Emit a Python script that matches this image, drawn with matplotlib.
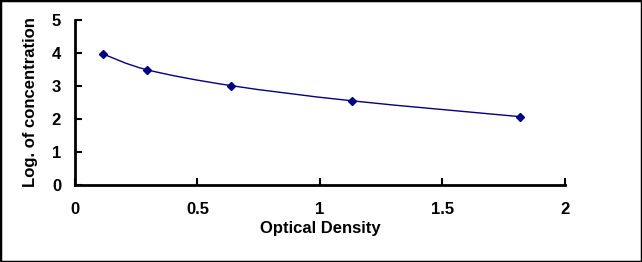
import matplotlib
matplotlib.use("Agg")
import matplotlib.pyplot as plt
import numpy as np
from matplotlib.path import Path
from matplotlib.patches import PathPatch, Rectangle

# standard curve points
od = [0.114, 0.294, 0.637, 1.13, 1.816]
log_conc = [3.97, 3.49, 3.01, 2.55, 2.07]

x_ticks = [0, 0.5, 1, 1.5, 2]
x_tick_labels = ["0", "0.5", "1", "1.5", "2"]
y_ticks = [0, 1, 2, 3, 4, 5]

plt.rcParams["font.family"] = ["Liberation Sans", "DejaVu Sans"]
plt.rcParams["font.weight"] = "bold"
plt.rcParams["font.size"] = 12

fig = plt.figure(figsize=(6.42, 2.62), dpi=100)
fig.patches.append(Rectangle((0, 0), 1, 1, transform=fig.transFigure,
                             fill=False, edgecolor="black", linewidth=2.5))
ax = fig.add_axes([0.1168, 0.294, 0.763, 0.63])

# smoothed line (Excel-style bezier through the points)
x = np.array(od); y = np.array(log_conc)
verts = [(x[0], y[0])]
codes = [Path.MOVETO]
n = len(x)
for i in range(n - 1):
    p0 = np.array([x[max(i - 1, 0)], y[max(i - 1, 0)]])
    p1 = np.array([x[i], y[i]])
    p2 = np.array([x[i + 1], y[i + 1]])
    p3 = np.array([x[min(i + 2, n - 1)], y[min(i + 2, n - 1)]])
    c1 = p1 + (p2 - p0) / 6.0
    c2 = p2 - (p3 - p1) / 6.0
    verts += [tuple(c1), tuple(c2), tuple(p2)]
    codes += [Path.CURVE4] * 3
ax.add_patch(PathPatch(Path(verts, codes), fill=False, edgecolor="#000080", linewidth=1))
ax.plot(od, log_conc, linestyle="none", marker="D", markersize=4.5,
        color="#000080")

ax.set_xlim(0, 2)
ax.set_ylim(0, 5)
ax.set_xticks(x_ticks)
ax.set_xticklabels(x_tick_labels)
ax.set_yticks(y_ticks)
ax.spines["top"].set_visible(False)
ax.spines["right"].set_visible(False)
ax.spines["left"].set_linewidth(2)
ax.spines["bottom"].set_linewidth(2)
ax.tick_params(direction="in", length=5, width=1.5, labelsize=12)
ax.tick_params(axis="y", pad=10)
ax.tick_params(axis="x", pad=12)
ax.set_xlabel("Optical Density", fontsize=12, fontweight="bold", labelpad=3)
ax.set_ylabel("Log. of concentration", fontsize=12, fontweight="bold", labelpad=10)

fig.savefig("out.png", dpi=100)
